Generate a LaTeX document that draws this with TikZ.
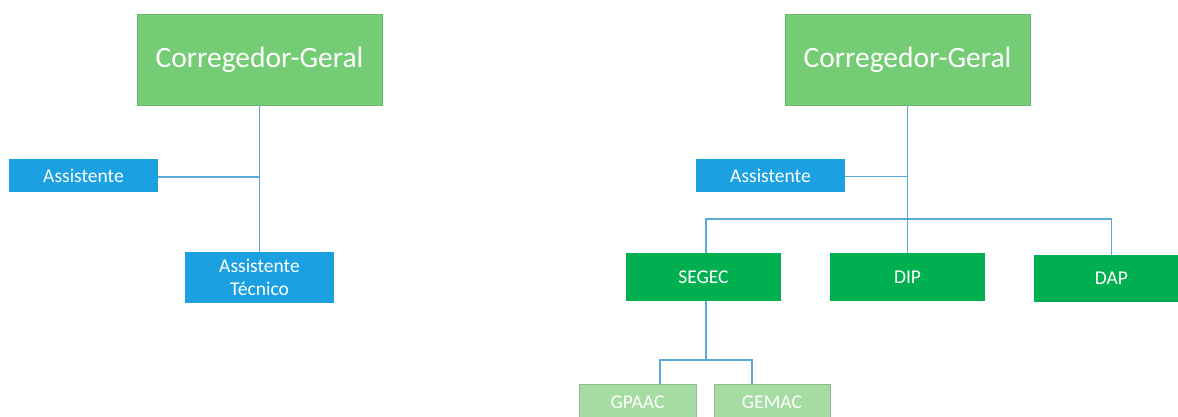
\documentclass[tikz,border=0pt]{standalone}
\usepackage{fontspec}
\setmainfont{Carlito}
\definecolor{bigg}{HTML}{74CD74}
\definecolor{midg}{HTML}{00B050}
\definecolor{blu}{HTML}{1BA1E2}
\definecolor{lig}{HTML}{A6DCA2}
\definecolor{ln}{HTML}{5BAAD6}
\begin{document}
\begin{tikzpicture}[x=1pt,y=-1pt,
  box/.style={rectangle,inner sep=0pt,text=white,align=center,font=\fontsize{19.5}{22.5}\selectfont},
  conn/.style={draw=ln,line width=1.3pt}]
\useasboundingbox (0,0) rectangle (1178,417);
\begin{scope}
\clip (0,0) rectangle (1178,417);
% left chart
\node[box,fill=bigg,draw=bigg!90!black,minimum width=245pt,minimum height=91pt,font=\fontsize{29.5}{34}\selectfont] (cgL) at (259.5,59.5) {Corregedor-Geral};
\node[box,fill=blu,minimum width=149pt,minimum height=33pt] (asL) at (83.5,175.5) {Assistente};
\node[box,fill=blu,minimum width=149pt,minimum height=51pt] (atL) at (259.5,277.5) {Assistente\\Técnico};
\coordinate (jL) at (259.5,177);
\draw[conn] (cgL.south) -- (atL.north);
\draw[conn] (asL.east |- jL) -- (jL);
% right chart
\node[box,fill=bigg,draw=bigg!90!black,minimum width=245pt,minimum height=91pt,font=\fontsize{29.5}{34}\selectfont] (cgR) at (907.5,59.5) {Corregedor-Geral};
\node[box,fill=blu,minimum width=149pt,minimum height=33pt] (asR) at (770.5,175.5) {Assistente};
\node[box,fill=midg,minimum width=155pt,minimum height=48pt] (segec) at (703.5,277) {SEGEC};
\node[box,fill=midg,minimum width=155pt,minimum height=48pt] (dip) at (907.5,277) {DIP};
\node[box,fill=midg,minimum width=155pt,minimum height=47pt,text width=144pt] (dap) at (1111.5,278.5) {DAP};
\node[box,fill=lig,draw=lig!85!black,line width=0.8pt,minimum width=117pt,minimum height=36pt] (gpaac) at (637.5,402) {GPAAC};
\node[box,fill=lig,draw=lig!85!black,line width=0.8pt,minimum width=116pt,minimum height=36pt] (gemac) at (772,402) {GEMAC};
\coordinate (jR) at (907.5,176.5);
\coordinate (bus) at (907.5,219);
\coordinate (bus2) at (706,360);
\draw[conn] (cgR.south) -- (dip.north);
\draw[conn] (asR.east |- jR) -- (jR);
\draw[conn] (segec.north -| bus2) |- (bus) -| (dap.north);
\draw[conn] (segec.south -| bus2) -- (bus2);
\draw[conn] (gpaac.north -| 660,0) |- (bus2) -| (gemac.north -| 752,0);
\end{scope}
\end{tikzpicture}
\end{document}
